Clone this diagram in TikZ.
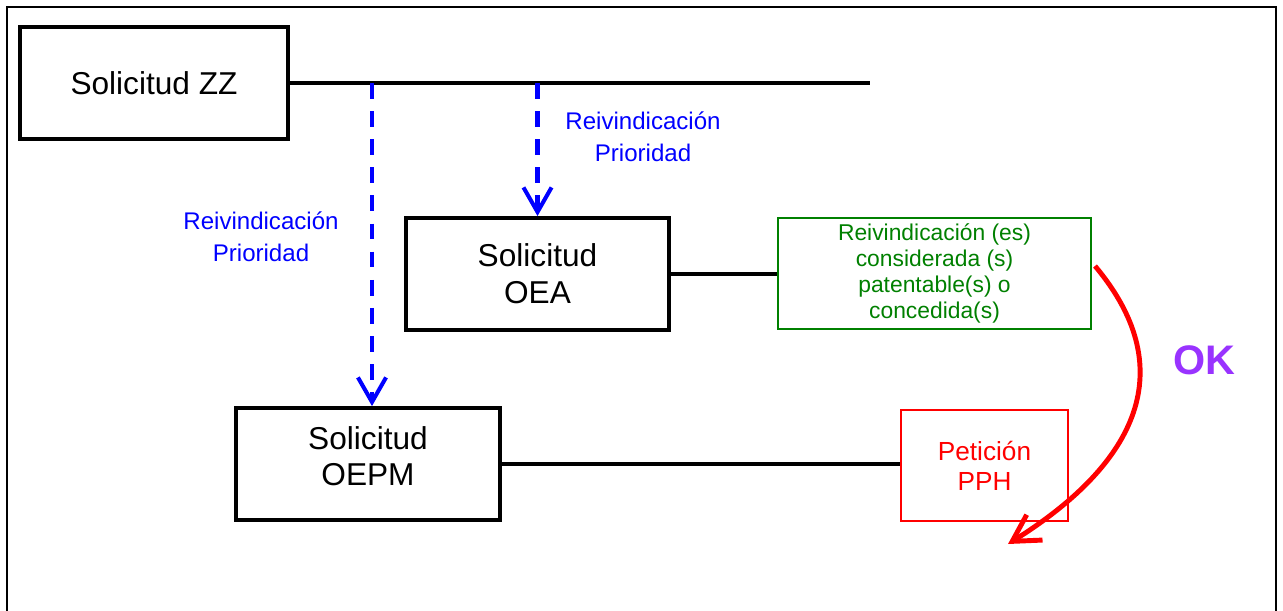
\documentclass[tikz,border=0pt]{standalone}
\usepackage{fontspec}
\setmainfont{Liberation Sans}
\usetikzlibrary{arrows.meta}
\definecolor{okpurple}{RGB}{153,51,255}
\definecolor{claimgreen}{RGB}{0,128,0}
\tikzset{
  appbox/.style={draw,line width=2.2pt,minimum height=2.24cm,align=center,font=\fontsize{18}{21}\selectfont},
  prio/.style={blue,align=center,font=\fontsize{13.7}{18}\selectfont},
  prioarrow/.style={blue,line width=2.3pt,dash pattern=on 9pt off 7pt,-{Straight Barb[length=14pt,width=16pt]}},
  branch/.style={line width=1.9pt}
}
\begin{document}
\begin{tikzpicture}[x=0.02cm,y=-0.02cm]
     \useasboundingbox (0,0) rectangle (1283,611);
     \draw[line width=1.2pt] (7,611) -- (7,7) -- (1276,7) -- (1276,611);

     \node[appbox,minimum width=5.36cm] (zz) at (154,83) {Solicitud ZZ};
     \node[appbox,minimum width=5.26cm] (oea) at (537.5,274) {Solicitud\\OEA};
     \node[appbox,minimum width=5.28cm,text depth=9pt,font=\fontsize{18}{20}\selectfont] (oepm) at (368,464) {Solicitud\\OEPM};

     \node[draw=claimgreen,text=claimgreen,line width=0.9pt,minimum width=6.26cm,minimum height=2.22cm,align=center,
           font=\fontsize{13}{14.8}\selectfont] (claims) at (934.5,273.5)
           {Reivindicación (es)\\considerada (s)\\patentable(s) o\\concedida(s)};
     \node[draw=red,text=red,line width=0.9pt,minimum width=3.34cm,minimum height=2.22cm,align=center,
           font=\fontsize{14.9}{17}\selectfont] (pph) at (984.5,465.5) {Petición\\PPH};

     \coordinate (zzend) at (870,83);
     \coordinate (tapA) at (372,83);
     \coordinate (tapB) at (537.5,83);
     \draw[branch] (zz.east) -- (zzend);
     \draw[branch] (oea.east) -- (oea.east -| claims.west);
     \draw[branch] (oepm.east) -- (oepm.east -| pph.west);

     % priority claims
     \draw[prioarrow] (tapA) -- (tapA |- oepm.north);
     \draw[prioarrow] (tapB) -- (oea.north);
     \node[prio] (prioB) at (643,137) {Reivindicación\\Prioridad};
     \node[prio] (prioA) at (261,237) {Reivindicación\\Prioridad};

     % OK arrow
     \coordinate (okstart) at (1095,266);
     \coordinate (okend) at (1008,544);
     \draw[red,line width=2.8pt,-{Straight Barb[length=15pt,width=17pt]}]
          (okstart) to[out=-50,in=32,looseness=1.25] (okend);
     \node[okpurple,font=\fontsize{23.5}{26}\selectfont\bfseries] (ok) at (1204,360) {OK};
\end{tikzpicture}
\end{document}
